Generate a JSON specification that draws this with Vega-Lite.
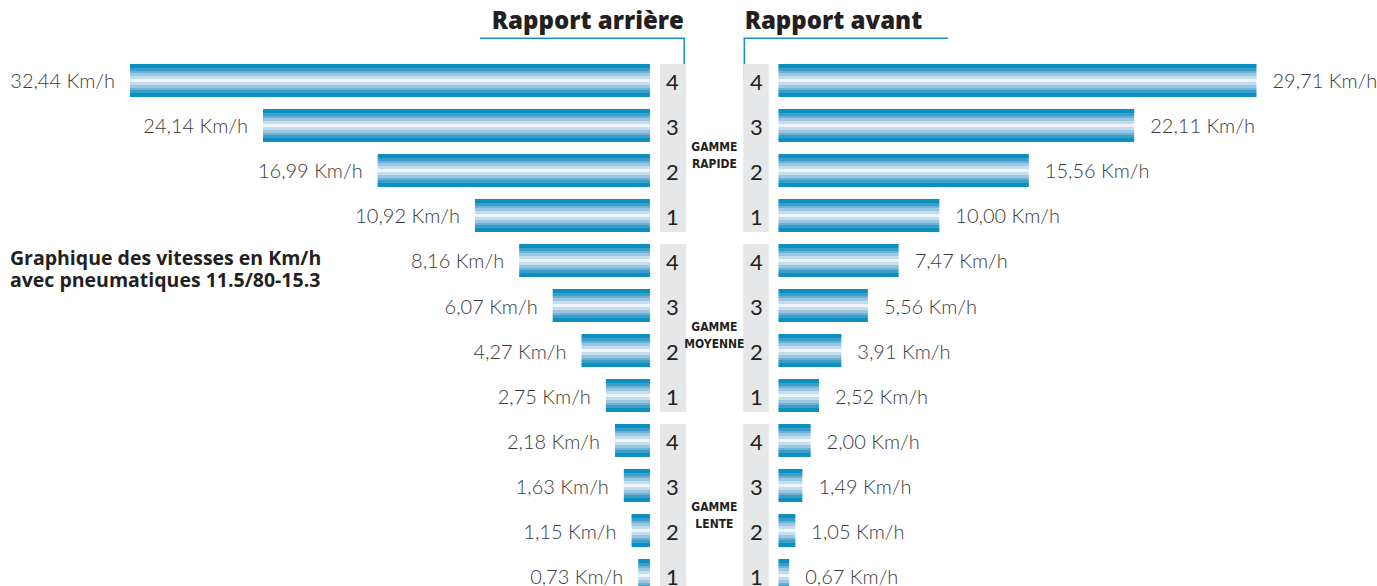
{
  "$schema": "https://vega.github.io/schema/vega-lite/v6.json",
  "width": 1377,
  "height": 585,
  "autosize": {"type": "none"},
  "padding": {"left": 0, "top": 13, "right": 0, "bottom": 0},
  "background": "white",
  "config": {
    "view": {"stroke": null},
    "locale": {"number": {"decimal": ",", "thousands": " ", "grouping": [3], "currency": ["", " Km/h"]}}
  },
  "datasets": {
    "vitesses": [
      {"gamme": "RAPIDE", "rapport": "4", "ligne": "RAPIDE 4", "arriere": 32.44, "avant": 29.71},
      {"gamme": "RAPIDE", "rapport": "3", "ligne": "RAPIDE 3", "arriere": 24.14, "avant": 22.11},
      {"gamme": "RAPIDE", "rapport": "2", "ligne": "RAPIDE 2", "arriere": 16.99, "avant": 15.56},
      {"gamme": "RAPIDE", "rapport": "1", "ligne": "RAPIDE 1", "arriere": 10.92, "avant": 10.00},
      {"gamme": "MOYENNE", "rapport": "4", "ligne": "MOYENNE 4", "arriere": 8.16, "avant": 7.47},
      {"gamme": "MOYENNE", "rapport": "3", "ligne": "MOYENNE 3", "arriere": 6.07, "avant": 5.56},
      {"gamme": "MOYENNE", "rapport": "2", "ligne": "MOYENNE 2", "arriere": 4.27, "avant": 3.91},
      {"gamme": "MOYENNE", "rapport": "1", "ligne": "MOYENNE 1", "arriere": 2.75, "avant": 2.52},
      {"gamme": "LENTE", "rapport": "4", "ligne": "LENTE 4", "arriere": 2.18, "avant": 2.00},
      {"gamme": "LENTE", "rapport": "3", "ligne": "LENTE 3", "arriere": 1.63, "avant": 1.49},
      {"gamme": "LENTE", "rapport": "2", "ligne": "LENTE 2", "arriere": 1.15, "avant": 1.05},
      {"gamme": "LENTE", "rapport": "1", "ligne": "LENTE 1", "arriere": 0.73, "avant": 0.67}
    ],
    "gammes": [
      {"gamme": "RAPIDE", "libelle": "GAMME RAPIDE"},
      {"gamme": "MOYENNE", "libelle": "GAMME MOYENNE"},
      {"gamme": "LENTE", "libelle": "GAMME LENTE"}
    ]
  },
  "layer": [
    {
      "data": {"name": "vitesses"},
      "layer": [
        {
          "mark": {"type": "bar", "fill": {"gradient": "linear", "x1": 0, "y1": 0, "x2": 0, "y2": 1, "stops": [
            {"offset": 0, "color": "#0b8ec0"}, {"offset": 0.12, "color": "#0b8ec0"},
            {"offset": 0.12, "color": "#3a9dca"}, {"offset": 0.2, "color": "#3a9dca"},
            {"offset": 0.2, "color": "#6bb0d5"}, {"offset": 0.285, "color": "#6bb0d5"},
            {"offset": 0.285, "color": "#99c6e0"}, {"offset": 0.37, "color": "#99c6e0"},
            {"offset": 0.37, "color": "#c4dcec"}, {"offset": 0.44, "color": "#c4dcec"},
            {"offset": 0.44, "color": "#eef4f9"}, {"offset": 0.56, "color": "#eef4f9"},
            {"offset": 0.56, "color": "#c4dcec"}, {"offset": 0.63, "color": "#c4dcec"},
            {"offset": 0.63, "color": "#99c6e0"}, {"offset": 0.715, "color": "#99c6e0"},
            {"offset": 0.715, "color": "#6bb0d5"}, {"offset": 0.8, "color": "#6bb0d5"},
            {"offset": 0.8, "color": "#3a9dca"}, {"offset": 0.88, "color": "#3a9dca"},
            {"offset": 0.88, "color": "#0b8ec0"}, {"offset": 1, "color": "#0b8ec0"}]}},
          "encoding": {
            "x": {"field": "arriere", "type": "quantitative", "scale": {"domain": [-45.36, 40.55], "reverse": true, "zero": false, "nice": false}, "axis": null},
            "y": {"field": "ligne", "type": "nominal", "scale": {"domain": ["titre", "RAPIDE 4", "RAPIDE 3", "RAPIDE 2", "RAPIDE 1", "MOYENNE 4", "MOYENNE 3", "MOYENNE 2", "MOYENNE 1", "LENTE 4", "LENTE 3", "LENTE 2", "LENTE 1"], "paddingInner": 0.26667, "paddingOuter": 0.13333}, "axis": null}
          }
        },
        {
          "mark": {"type": "text", "align": "right", "baseline": "middle", "dx": -15, "dy": 2, "font": "Lato", "fontSize": 20, "fontWeight": 300, "color": "#3a3a3a"},
          "encoding": {
            "x": {"field": "arriere", "type": "quantitative"},
            "y": {"field": "ligne", "type": "nominal"},
            "text": {"field": "arriere", "type": "quantitative", "format": "$.2f"}
          }
        },
        {
          "data": {"values": [{}]},
          "mark": {"type": "rule", "color": "#1b8fc9", "strokeWidth": 1.6},
          "encoding": {
            "x": {"datum": 10.61, "type": "quantitative"},
            "x2": {"datum": -2.19},
            "y": {"datum": "titre", "type": "nominal", "bandPosition": 0.585}
          }
        },
        {
          "data": {"values": [{}]},
          "mark": {"type": "rule", "color": "#1b8fc9", "strokeWidth": 1.6},
          "encoding": {
            "x": {"datum": -2.14, "type": "quantitative"},
            "y": {"datum": "titre", "type": "nominal", "bandPosition": 0.585},
            "y2": {"datum": "RAPIDE 4"}
          }
        },
        {
          "data": {"values": [{}]},
          "mark": {"type": "text", "text": "Rapport arrière", "align": "right", "baseline": "alphabetic", "font": "Open Sans", "fontSize": 24, "fontWeight": 800, "color": "#231f20"},
          "encoding": {
            "x": {"datum": -2.12, "type": "quantitative"},
            "y": {"datum": "titre", "type": "nominal", "bandPosition": 0.3}
          }
        },
        {
          "data": {"values": [{}]},
          "mark": {"type": "text", "text": ["Graphique des vitesses en Km/h", "avec pneumatiques 11.5/80-15.3"], "align": "left", "baseline": "middle", "dy": -1, "lineHeight": 22, "font": "Open Sans", "fontSize": 19.5, "fontWeight": "bold", "color": "#231f20"},
          "encoding": {
            "x": {"datum": 39.93, "type": "quantitative"},
            "y": {"datum": "MOYENNE 4", "type": "nominal"}
          }
        }
      ]
    },
    {
      "data": {"name": "vitesses"},
      "layer": [
        {
          "mark": {"type": "bar", "fill": {"gradient": "linear", "x1": 0, "y1": 0, "x2": 0, "y2": 1, "stops": [
            {"offset": 0, "color": "#0b8ec0"}, {"offset": 0.12, "color": "#0b8ec0"},
            {"offset": 0.12, "color": "#3a9dca"}, {"offset": 0.2, "color": "#3a9dca"},
            {"offset": 0.2, "color": "#6bb0d5"}, {"offset": 0.285, "color": "#6bb0d5"},
            {"offset": 0.285, "color": "#99c6e0"}, {"offset": 0.37, "color": "#99c6e0"},
            {"offset": 0.37, "color": "#c4dcec"}, {"offset": 0.44, "color": "#c4dcec"},
            {"offset": 0.44, "color": "#eef4f9"}, {"offset": 0.56, "color": "#eef4f9"},
            {"offset": 0.56, "color": "#c4dcec"}, {"offset": 0.63, "color": "#c4dcec"},
            {"offset": 0.63, "color": "#99c6e0"}, {"offset": 0.715, "color": "#99c6e0"},
            {"offset": 0.715, "color": "#6bb0d5"}, {"offset": 0.8, "color": "#6bb0d5"},
            {"offset": 0.8, "color": "#3a9dca"}, {"offset": 0.88, "color": "#3a9dca"},
            {"offset": 0.88, "color": "#0b8ec0"}, {"offset": 1, "color": "#0b8ec0"}]}},
          "encoding": {
            "x": {"field": "avant", "type": "quantitative", "scale": {"domain": [-48.38, 37.2], "zero": false, "nice": false}, "axis": null},
            "y": {"field": "ligne", "type": "nominal", "scale": {"domain": ["titre", "RAPIDE 4", "RAPIDE 3", "RAPIDE 2", "RAPIDE 1", "MOYENNE 4", "MOYENNE 3", "MOYENNE 2", "MOYENNE 1", "LENTE 4", "LENTE 3", "LENTE 2", "LENTE 1"], "paddingInner": 0.26667, "paddingOuter": 0.13333}, "axis": null}
          }
        },
        {
          "mark": {"type": "text", "align": "left", "baseline": "middle", "dx": 16, "dy": 2, "font": "Lato", "fontSize": 20, "fontWeight": 300, "color": "#3a3a3a"},
          "encoding": {
            "x": {"field": "avant", "type": "quantitative"},
            "y": {"field": "ligne", "type": "nominal"},
            "text": {"field": "avant", "type": "quantitative", "format": "$.2f"}
          }
        },
        {
          "data": {"values": [{}]},
          "mark": {"type": "rule", "color": "#1b8fc9", "strokeWidth": 1.6},
          "encoding": {
            "x": {"datum": -2.17, "type": "quantitative"},
            "x2": {"datum": 10.55},
            "y": {"datum": "titre", "type": "nominal", "bandPosition": 0.585}
          }
        },
        {
          "data": {"values": [{}]},
          "mark": {"type": "rule", "color": "#1b8fc9", "strokeWidth": 1.6},
          "encoding": {
            "x": {"datum": -2.12, "type": "quantitative"},
            "y": {"datum": "titre", "type": "nominal", "bandPosition": 0.585},
            "y2": {"datum": "RAPIDE 4"}
          }
        },
        {
          "data": {"values": [{}]},
          "mark": {"type": "text", "text": "Rapport avant", "align": "left", "baseline": "alphabetic", "font": "Open Sans", "fontSize": 24, "fontWeight": 800, "color": "#231f20"},
          "encoding": {
            "x": {"datum": -2.1, "type": "quantitative"},
            "y": {"datum": "titre", "type": "nominal", "bandPosition": 0.3}
          }
        }
      ]
    },
    {
      "data": {"name": "gammes"},
      "layer": [
        {
          "mark": {"type": "bar", "color": "#e6e7e8"},
          "encoding": {
            "x": {"datum": -0.62, "type": "quantitative", "scale": {"domain": [-45.36, 40.55], "reverse": true, "zero": false, "nice": false}, "axis": null},
            "x2": {"datum": -2.25},
            "y": {"field": "gamme", "type": "nominal", "scale": {"domain": ["RAPIDE", "MOYENNE", "LENTE"], "paddingInner": 0.06667, "paddingOuter": 0.15833, "align": 0.8947}, "axis": null}
          }
        },
        {
          "mark": {"type": "bar", "color": "#e6e7e8"},
          "encoding": {
            "x": {"datum": -5.82, "type": "quantitative"},
            "x2": {"datum": -7.42},
            "y": {"field": "gamme", "type": "nominal"}
          }
        },
        {
          "mark": {"type": "text", "lineBreak": " ", "lineHeight": 17, "baseline": "middle", "dy": -1, "font": "'DejaVu Sans Condensed', 'Liberation Sans Narrow', Roboto, sans-serif", "fontSize": 12, "fontWeight": 600, "color": "#231f20"},
          "encoding": {
            "x": {"datum": -4.02, "type": "quantitative"},
            "y": {"field": "gamme", "type": "nominal"},
            "text": {"field": "libelle", "type": "nominal"}
          }
        }
      ]
    },
    {
      "data": {"name": "vitesses"},
      "layer": [
        {
          "mark": {"type": "text", "baseline": "middle", "dy": 2, "font": "Lato", "fontSize": 22, "color": "#231f20"},
          "encoding": {
            "x": {"datum": -1.4, "type": "quantitative", "scale": {"domain": [-45.36, 40.55], "reverse": true, "zero": false, "nice": false}, "axis": null},
            "y": {"field": "ligne", "type": "nominal", "scale": {"domain": ["titre", "RAPIDE 4", "RAPIDE 3", "RAPIDE 2", "RAPIDE 1", "MOYENNE 4", "MOYENNE 3", "MOYENNE 2", "MOYENNE 1", "LENTE 4", "LENTE 3", "LENTE 2", "LENTE 1"], "paddingInner": 0.26667, "paddingOuter": 0.13333}, "axis": null},
            "text": {"field": "rapport", "type": "nominal"}
          }
        },
        {
          "mark": {"type": "text", "baseline": "middle", "dy": 2, "font": "Lato", "fontSize": 22, "color": "#231f20"},
          "encoding": {
            "x": {"datum": -6.644, "type": "quantitative"},
            "y": {"field": "ligne", "type": "nominal"},
            "text": {"field": "rapport", "type": "nominal"}
          }
        }
      ]
    }
  ],
  "resolve": {"scale": {"x": "independent", "y": "independent"}}
}
